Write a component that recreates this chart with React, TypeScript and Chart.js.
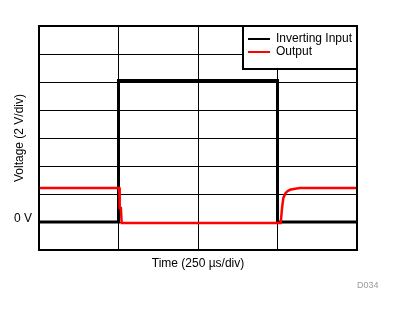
import React, { useEffect, useRef } from 'react';
import { Chart, registerables } from 'chart.js';

Chart.register(...registerables);

// Time in divisions (250 µs/div), voltage in divisions (2 V/div)
const inputTime = [0, 1, 1, 3, 3, 4];
const inputVolts = [0, 0, 5.05, 5.05, 0, 0];
const outputTime = [0, 1.01, 1.015, 1.03, 1.04, 3.04, 3.045, 3.057, 3.073, 3.098, 3.125, 3.157, 3.22, 3.283, 4];
const outputVolts = [1.21, 1.21, 0.5, 0.5, -0.035, -0.035, 0.1, 0.5, 0.85, 1.02, 1.1, 1.15, 1.19, 1.21, 1.21];
const seriesNames = ['Inverting Input', 'Output'];
const seriesColors = ['#000000', '#ff0000'];
const xTitle = 'Time (250 µs/div)';
const yTitle = 'Voltage (2 V/div)';
const zeroLabel = '0 V';
const figureId = 'D034';

const FONT = 'Arial, "Liberation Sans", sans-serif';

const framePlugin = {
  id: 'frameLegend',
  afterDraw(chart: any) {
    const { ctx, chartArea } = chart;
    const { left, top, right, bottom } = chartArea;
    ctx.save();
    // plot frame
    ctx.strokeStyle = '#000';
    ctx.lineWidth = 2;
    ctx.strokeRect(left, top, right - left, bottom - top);
    // legend box
    const lx = 243;
    const ly = top;
    const lw = right - lx;
    const lh = 69 - top;
    ctx.fillStyle = '#fff';
    ctx.fillRect(lx, ly, lw, lh);
    ctx.strokeRect(lx, ly, lw, lh);
    ctx.font = '12px ' + FONT;
    ctx.textBaseline = 'middle';
    ctx.textAlign = 'left';
    chart.data.datasets.forEach((ds: any, i: number) => {
      const y = 39 + i * 13;
      ctx.strokeStyle = ds.borderColor;
      ctx.lineWidth = 2;
      ctx.beginPath();
      ctx.moveTo(248, y);
      ctx.lineTo(270, y);
      ctx.stroke();
      ctx.fillStyle = '#000';
      ctx.fillText(ds.label, 276, y);
    });
    // figure id
    ctx.font = '9px ' + FONT;
    ctx.fillStyle = '#9a9a9a';
    ctx.fillText(figureId, 357, 286);
    ctx.restore();
  },
};

export default function App() {
  const ref = useRef<HTMLCanvasElement>(null);
  useEffect(() => {
    if (!ref.current) return;
    const chart = new Chart(ref.current, {
      type: 'line',
      data: {
        datasets: [
          {
            label: seriesNames[0],
            data: inputTime.map((t, i) => ({ x: t, y: inputVolts[i] })),
            borderColor: seriesColors[0],
            borderWidth: 3,
            pointRadius: 0,
            tension: 0,
            fill: false,
            order: 1,
          },
          {
            label: seriesNames[1],
            data: outputTime.map((t, i) => ({ x: t, y: outputVolts[i] })),
            borderColor: seriesColors[1],
            borderWidth: 2.5,
            pointRadius: 0,
            tension: 0,
            fill: false,
            order: 0,
          },
        ],
      },
      options: {
        responsive: false,
        animation: false,
        devicePixelRatio: 1,
        layout: { padding: { top: 26, right: 38, left: 0, bottom: 0 } },
        plugins: { legend: { display: false }, tooltip: { enabled: false } },
        scales: {
          x: {
            type: 'linear',
            min: 0,
            max: 4,
            afterFit: (s: any) => { s.height = 62; },
            ticks: { display: false, stepSize: 1 },
            grid: { color: '#000', lineWidth: 1, drawTicks: false },
            border: { display: false },
            title: {
              display: true,
              text: xTitle,
              color: '#000',
              font: { family: FONT, size: 12 },
              padding: { top: 0, bottom: 41 },
            },
          },
          y: {
            type: 'linear',
            min: -1,
            max: 7,
            afterFit: (s: any) => { s.width = 39; },
            ticks: {
              stepSize: 1,
              padding: 7,
              color: '#000',
              font: { family: FONT, size: 12 },
              labelOffset: -3,
              callback: (v: any) => (Number(v) === 0 ? zeroLabel : ''),
            },
            grid: { color: '#000', lineWidth: 1, drawTicks: false },
            border: { display: false },
            title: {
              display: true,
              text: yTitle,
              color: '#000',
              font: { family: FONT, size: 12 },
              padding: { top: 12.5, bottom: 0 },
            },
          },
        },
      },
      plugins: [framePlugin],
    });
    return () => chart.destroy();
  }, []);
  return (
    <div style={{ position: 'fixed', left: 0, top: 0, width: 395, height: 312, background: '#fff' }}>
      <canvas ref={ref} width={395} height={312} />
    </div>
  );
}
